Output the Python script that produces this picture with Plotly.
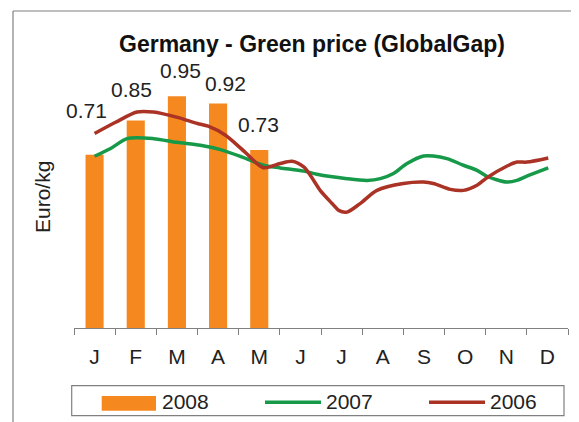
import plotly.graph_objects as go

# ---------------- data ----------------
months = ["J", "F", "M", "A", "M", "J", "J", "A", "S", "O", "N", "D"]

bar_2008_pos = [0, 1, 2, 3, 4]
bar_2008_val = [0.71, 0.85, 0.95, 0.92, 0.73]
bar_2008_txt = ["0.71", "0.85", "0.95", "0.92", "0.73"]

# 2007 (green) - month position (0 = Jan) and price
line_2007_pos = [0.0, 0.39, 0.79, 1.43, 2.0, 2.57, 3.06, 3.59, 4.10, 4.51, 5.08, 5.40,
                 6.13, 6.62, 6.94, 7.26, 7.59, 7.99, 8.23, 8.56, 8.96, 9.29, 9.53,
                 10.01, 10.26, 10.50, 11.02]
line_2007_val = [0.704, 0.736, 0.776, 0.776, 0.761, 0.749, 0.731, 0.700, 0.667, 0.656,
                 0.643, 0.630, 0.612, 0.605, 0.612, 0.633, 0.674, 0.705, 0.705, 0.694,
                 0.667, 0.646, 0.622, 0.598, 0.605, 0.622, 0.656]

# 2006 (red)
line_2006_pos = [0.0, 0.51, 1.03, 1.43, 1.99, 2.50, 2.76, 3.18, 3.66, 4.10, 4.51, 4.80,
                 5.08, 5.24, 5.48, 5.77, 5.93, 6.13, 6.45, 6.86, 7.50, 7.99, 8.23, 8.64,
                 8.96, 9.29, 9.53, 10.01, 10.26, 10.50, 11.02]
line_2006_val = [0.797, 0.843, 0.885, 0.885, 0.864, 0.838, 0.827, 0.790, 0.720, 0.657,
                 0.674, 0.683, 0.660, 0.626, 0.564, 0.510, 0.482, 0.475, 0.510, 0.564,
                 0.592, 0.598, 0.592, 0.568, 0.564, 0.585, 0.616, 0.663, 0.680, 0.680,
                 0.697]

# ---------------- style ----------------
OFF = 8                      # page body margin
PAGE_W, PAGE_H = 579, 422
W, H = PAGE_W - OFF, PAGE_H - OFF
ML, MR, MT, MB = 74 - OFF, 11, 84 - OFF, 94
PW = W - ML - MR
PH = H - MT - MB
FONT = "Liberation Sans, Arial, sans-serif"
C_BAR = "#F5891F"
C_2007 = "#17994A"
C_2006 = "#AA3326"
GRAY = "#808080"

label_dx = [-8, -4, 3.5, 7, -1]
label_dy = [44, 31, 25.5, 20.5, 25]


def px(x):
    """page pixel x -> paper"""
    return (x - OFF - ML) / PW


def py(y):
    """page pixel y -> paper"""
    return (H - MB - (y - OFF)) / PH


fig = go.Figure()
fig.add_trace(go.Bar(x=bar_2008_pos, y=bar_2008_val, width=0.44,
                     marker=dict(color=C_BAR, line=dict(width=0)),
                     name="2008", showlegend=False))
fig.add_trace(go.Scatter(x=line_2007_pos, y=line_2007_val, mode="lines",
                         line=dict(color=C_2007, width=3.5, shape="spline", smoothing=0.8),
                         name="2007", showlegend=False))
fig.add_trace(go.Scatter(x=line_2006_pos, y=line_2006_val, mode="lines",
                         line=dict(color=C_2006, width=3.5, shape="spline", smoothing=0.8),
                         name="2006", showlegend=False))

annotations = []
for p, v, t, dx, dy in zip(bar_2008_pos, bar_2008_val, bar_2008_txt, label_dx, label_dy):
    annotations.append(dict(x=p, y=v, xref="x", yref="y", text=t, showarrow=False,
                            xshift=dx, yshift=dy, xanchor="center", yanchor="middle",
                            font=dict(family=FONT, size=21, color="#222222")))

# title and axis title
annotations.append(dict(x=px(312), y=py(43.5), xref="paper", yref="paper",
                        text="<b>Germany - Green price (GlobalGap)</b>", showarrow=False,
                        xanchor="center", yanchor="middle",
                        font=dict(family=FONT, size=23, color="#111111")))
annotations.append(dict(x=px(42.5), y=py(197.5), xref="paper", yref="paper",
                        text="Euro/kg", showarrow=False, textangle=-90,
                        xanchor="center", yanchor="middle",
                        font=dict(family=FONT, size=21, color="#222222")))

# legend texts
for x0, t in [(161.7, "2008"), (326, "2007"), (490, "2006")]:
    annotations.append(dict(x=px(x0), y=py(401.5), xref="paper", yref="paper",
                            text=t, showarrow=False, xanchor="left", yanchor="middle",
                            xshift=-2,
                            font=dict(family=FONT, size=21, color="#222222")))

shapes = [
    # outer frame (left and top)
    dict(type="line", xref="paper", yref="paper", x0=px(13), x1=px(13), y0=py(11), y1=py(PAGE_H + 2),
         line=dict(color=GRAY, width=1.2)),
    dict(type="line", xref="paper", yref="paper", x0=px(13), x1=px(PAGE_W + 2), y0=py(11), y1=py(11),
         line=dict(color=GRAY, width=1.2)),
    # legend box
    dict(type="rect", xref="paper", yref="paper", x0=px(71.7), x1=px(564), y0=py(415.7), y1=py(385.7),
         line=dict(color=GRAY, width=1.2), fillcolor="rgba(0,0,0,0)"),
    dict(type="rect", xref="paper", yref="paper", x0=px(101.7), x1=px(156), y0=py(410.7), y1=py(396),
         line=dict(width=0), fillcolor=C_BAR),
    dict(type="line", xref="paper", yref="paper", x0=px(265), x1=px(321), y0=py(402.3), y1=py(402.3),
         line=dict(color=C_2007, width=3.5)),
    dict(type="line", xref="paper", yref="paper", x0=px(429), x1=px(485), y0=py(402.3), y1=py(402.3),
         line=dict(color=C_2006, width=3.5)),
]

fig.update_layout(
    width=W, height=H,
    margin=dict(l=ML, r=MR, t=MT, b=MB, pad=0),
    paper_bgcolor="white", plot_bgcolor="white",
    showlegend=False,
    annotations=annotations,
    shapes=shapes,
    xaxis=dict(range=[-0.5, 11.5], tickmode="array", tickvals=list(range(12)),
               ticktext=months, ticks="", showgrid=False, zeroline=False,
               showline=True, linecolor=GRAY, linewidth=1.2,
               tickfont=dict(family=FONT, size=21, color="#222222"),
               ticklabelstandoff=10,
               minor=dict(tickmode="array", tickvals=[i - 0.5 for i in range(13)],
                          ticks="outside", ticklen=6, tickcolor=GRAY, tickwidth=1.2,
                          showgrid=False),
               fixedrange=True),
    yaxis=dict(range=[0, 1.0], visible=False, showgrid=False, zeroline=False, fixedrange=True),
)

fig.write_html("out.html")
